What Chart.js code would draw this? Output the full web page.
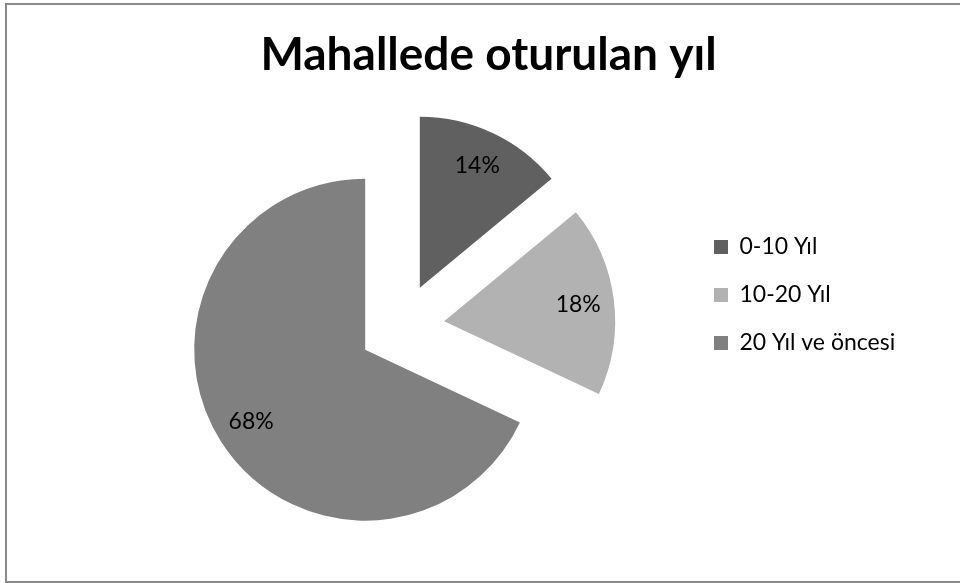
<!DOCTYPE html>
<html>
<head>
<meta charset="utf-8">
<script src="https://cdn.jsdelivr.net/npm/chart.js@4"></script>
<style>
  html, body { margin: 0; padding: 0; background: #fff; overflow: hidden; }
  #marco { position: absolute; left: 5px; top: 3px; width: 1000px; height: 576px; border: 2px solid #8a8a8a; }
  #grafico { position: absolute; left: 0; top: 0; }
</style>
</head>
<body>
<div id="marco"></div>
<canvas id="grafico" width="960" height="583"></canvas>
<script>
const titulo = "Mahallede oturulan yıl";
const categorias = ["0-10 Yıl", "10-20 Yıl", "20 Yıl ve öncesi"];
const porcentajes = [14, 18, 68];
const colores = ["#606060", "#b2b2b2", "#808080"];

const radio = 171;      // radio de la torta
const separacion = 43;  // cuánto se separa cada porción del centro

// porciones separadas (explode) a lo largo de su ángulo medio
const separar = {
  id: "separar",
  beforeDatasetsDraw(chart) {
    const meta = chart.getDatasetMeta(0);
    const { left, right, top, bottom } = chart.chartArea;
    const cx = (left + right) / 2;
    const cy = (top + bottom) / 2;
    meta.data.forEach((arc) => {
      const mid = (arc.startAngle + arc.endAngle) / 2;
      arc.x = cx + Math.cos(mid) * separacion;
      arc.y = cy + Math.sin(mid) * separacion;
    });
  },
};

// la leyenda ocupa poco en el layout pero el texto no se recorta
const leyendaAncha = {
  id: "leyendaAncha",
  afterLayout(chart) {
    chart.legend.right = chart.width;
  },
};

// etiquetas de porcentaje dentro de cada porción
const etiquetas = {
  id: "etiquetas",
  afterDatasetsDraw(chart) {
    const ctx = chart.ctx;
    const meta = chart.getDatasetMeta(0);
    ctx.save();
    ctx.font = "23px Lato";
    ctx.fillStyle = "#000";
    ctx.textAlign = "center";
    ctx.textBaseline = "middle";
    meta.data.forEach((arc, i) => {
      const mid = (arc.startAngle + arc.endAngle) / 2;
      const d = arc.outerRadius * 0.79;
      ctx.fillText(porcentajes[i] + "%", arc.x + Math.cos(mid) * d, arc.y + Math.sin(mid) * d);
    });
    ctx.restore();
  },
};

const ctx = document.getElementById("grafico").getContext("2d");

const chart = new Chart(ctx, {
  type: "pie",
  data: {
    labels: categorias,
    datasets: [
      {
        data: porcentajes,
        backgroundColor: colores,
        borderWidth: 0,
        hoverOffset: 0,
        radius: radio,
      },
    ],
  },
  options: {
    responsive: false,
    animation: false,
    events: [],
    layout: {
      padding: { top: 20, bottom: 13, left: 114, right: 97 },
    },
    plugins: {
      title: {
        display: true,
        text: titulo,
        color: "#000",
        font: { family: "Lato", size: 46, weight: "bold" },
        padding: { top: 8, bottom: 0 },
      },
      legend: {
        position: "right",
        fullSize: true,
        align: "center",
        maxWidth: 174,
        labels: {
          color: "#000",
          boxWidth: 14,
          boxHeight: 14,
          padding: 25,
          font: { family: "Lato", size: 23 },
        },
      },
      tooltip: { enabled: false },
    },
  },
  plugins: [separar, leyendaAncha, etiquetas],
});
</script>
</body>
</html>
